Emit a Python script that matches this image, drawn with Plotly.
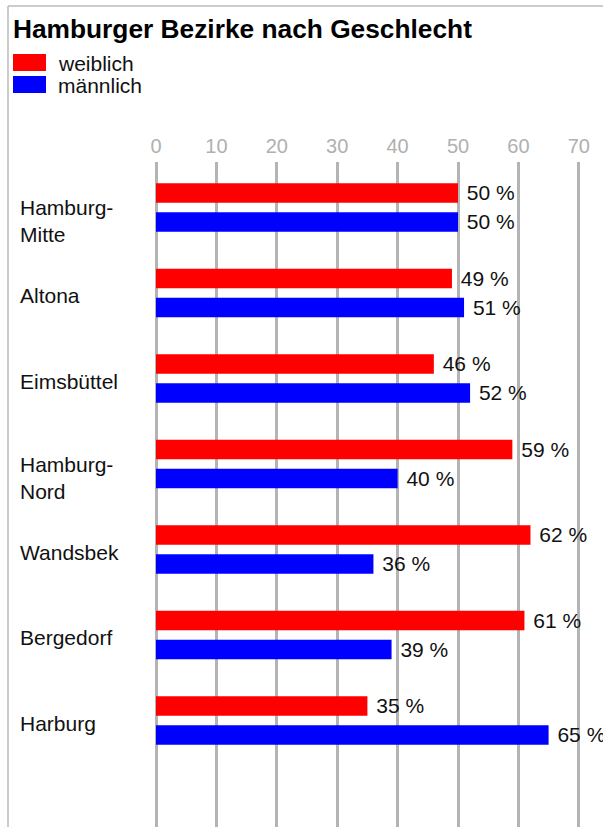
import plotly.graph_objects as go

districts = ["Hamburg-Mitte", "Altona", "Eimsbüttel", "Hamburg-Nord", "Wandsbek", "Bergedorf", "Harburg"]
district_labels = ["Hamburg-<br>Mitte", "Altona", "Eimsbüttel", "Hamburg-<br>Nord", "Wandsbek", "Bergedorf", "Harburg"]
weiblich = [50, 49, 46, 59, 62, 61, 35]
maennlich = [50, 51, 52, 40, 36, 39, 65]
series_names = ["weiblich", "männlich"]
colors = ["#ff0000", "#0000ff"]
tick_vals = [0, 10, 20, 30, 40, 50, 60, 70]

W, H = 603, 827
ML, MR, MT, MB = 156, 0, 162, 0
PW, PH = W - ML - MR, H - MT - MB
FONT = "Liberation Sans, Arial, sans-serif"


def px(xp):
    return (xp - ML) / PW


def py(yp):
    return (H - MB - yp) / PH


fig = go.Figure()
for name, vals, col in zip(series_names, [weiblich, maennlich], colors):
    fig.add_trace(go.Bar(
        x=vals, y=districts, orientation="h", name=name,
        marker=dict(color=col, line=dict(width=0)),
        text=vals, texttemplate=" %{x} %", textposition="outside", constraintext="none",
        textfont=dict(size=21, color="#111111", family=FONT),
        cliponaxis=False, showlegend=False, hoverinfo="skip",
    ))

shapes = [
    dict(type="line", xref="paper", yref="paper", x0=px(8), x1=px(8), y0=py(H + 5), y1=py(6),
         line=dict(color="#bbbbbb", width=1.5)),
    dict(type="line", xref="paper", yref="paper", x0=px(8), x1=px(W + 5), y0=py(6), y1=py(6),
         line=dict(color="#bbbbbb", width=1.5)),
]
annotations = []
# legend (manual, to match rectangular swatches)
for i, (name, col) in enumerate(zip(series_names, colors)):
    top = 54 + i * 22
    shapes.append(dict(type="rect", xref="paper", yref="paper", x0=px(13), x1=px(46),
                       y0=py(top + 17), y1=py(top), fillcolor=col, line=dict(width=0)))
    annotations.append(dict(xref="paper", yref="paper", x=px(56), y=py(top + 9), text=name,
                            showarrow=False, xanchor="left", yanchor="middle",
                            font=dict(size=21, color="#111111", family=FONT)))
# category labels, left aligned
for d, lab in zip(districts, district_labels):
    two = "<br>" in lab
    annotations.append(dict(xref="paper", yref="y", x=px(18), y=d, text=lab, showarrow=False,
                            xanchor="left", yanchor="middle", align="left",
                            yshift=-14 if two else -3,
                            font=dict(size=21, color="#111111", family=FONT)))

fig.update_layout(
    width=W, height=H,
    margin=dict(l=ML, r=MR, t=MT, b=MB, pad=0),
    paper_bgcolor="white", plot_bgcolor="white",
    barmode="group", bargap=0.322, bargroupgap=0.328,
    title=dict(text="<b>Hamburger Bezirke nach Geschlecht</b>", xref="container", yref="container",
               x=13 / W, y=1 - 29 / H, xanchor="left", yanchor="middle",
               font=dict(size=26.3, color="#000000", family=FONT)),
    xaxis=dict(side="top", range=[0, PW / 6.04], tickvals=tick_vals, showgrid=True,
               gridcolor="#b4b4b4", gridwidth=2.5, zeroline=True, zerolinecolor="#b4b4b4",
               zerolinewidth=2.5, showline=False, ticks="", ticklabelstandoff=4,
               tickfont=dict(size=20, color="#b0b0b0", family=FONT), fixedrange=True),
    yaxis=dict(type="category", categoryorder="array", categoryarray=districts,
               range=[7.246, -0.532], showticklabels=False, showgrid=False, zeroline=False,
               showline=False, ticks="", fixedrange=True),
    shapes=shapes, annotations=annotations,
)

fig.write_html("out.html", config={"displayModeBar": False},
               post_script="document.body.style.margin='0';document.body.style.overflow='hidden';")
